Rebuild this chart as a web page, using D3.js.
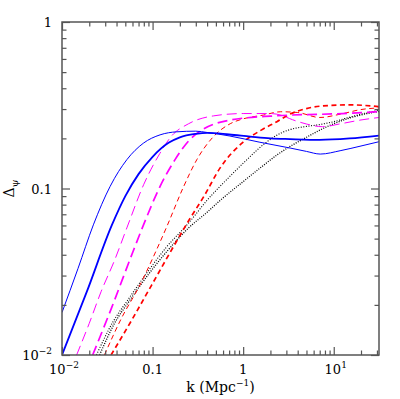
<!DOCTYPE html>
<html>
<head>
<meta charset="utf-8">
<script src="https://cdn.jsdelivr.net/npm/d3@7"></script>
<style>
  body { margin: 0; background: #fff; }
  svg text { font-family: "DejaVu Serif", serif; fill: #000; }
</style>
</head>
<body>
<svg id="chart" width="400" height="399"></svg>
<script>
// [k (Mpc^-1), Delta_psi]
const blueThin = [[0.01,0.018],[0.015,0.033],[0.0222,0.0605],[0.034,0.103],[0.052,0.149],[0.079,0.187],[0.121,0.21],[0.185,0.219],[0.3,0.221],[0.4,0.217],[0.7,0.207],[1.5,0.19],[3.3,0.175],[5,0.167],[7.1,0.161],[12,0.169],[20,0.18],[31.6,0.191]];
const blueThick = [[0.01,0.01],[0.0188,0.024],[0.0354,0.06],[0.05,0.09],[0.07,0.122],[0.1,0.155],[0.15,0.188],[0.2,0.203],[0.3,0.213],[0.4,0.216],[0.7,0.211],[1.2,0.205],[2,0.2],[3.3,0.198],[7,0.196],[15,0.2],[31.6,0.208]];
const magentaThin = [[0.0145,0.01],[0.02,0.0155],[0.027,0.024],[0.038,0.037],[0.052,0.058],[0.08,0.106],[0.12,0.162],[0.16,0.205],[0.25,0.245],[0.47,0.273],[1.0,0.282],[2.0,0.282],[2.6,0.276],[3.5,0.259],[5,0.244],[7.5,0.235],[12,0.245],[20,0.258],[31.6,0.267]];
const magentaThick = [[0.0218,0.01],[0.035,0.019],[0.061,0.042],[0.079,0.06],[0.121,0.103],[0.177,0.149],[0.25,0.193],[0.35,0.225],[0.47,0.243],[0.7,0.257],[1.1,0.266],[2,0.272],[3.3,0.276],[7,0.279],[15,0.283],[31.6,0.29]];
const redThin = [[0.0294,0.01],[0.045,0.0165],[0.0727,0.0264],[0.111,0.043],[0.1435,0.059],[0.219,0.102],[0.31,0.15],[0.47,0.205],[0.72,0.245],[1.0,0.262],[1.67,0.276],[2.6,0.289],[4,0.286],[7,0.267],[12,0.28],[20,0.298],[31.6,0.305]];
const redThick = [[0.0348,0.01],[0.06,0.0165],[0.098,0.0264],[0.163,0.043],[0.25,0.064],[0.37,0.09],[0.557,0.133],[1.0,0.19],[1.6,0.225],[2.36,0.252],[3.3,0.28],[5,0.302],[7,0.312],[15,0.318],[31.6,0.31]];
const dottedA = [[0.024,0.01],[0.037,0.016],[0.052,0.021],[0.086,0.031],[0.14,0.044],[0.25,0.062],[0.4,0.085],[0.7,0.117],[1.1,0.149],[1.7,0.185],[2.6,0.215],[3.3,0.226],[5,0.236],[7,0.242],[10,0.252],[15,0.268],[22,0.283],[31.6,0.295]];
const dottedB = [[0.026,0.01],[0.038,0.0155],[0.055,0.021],[0.09,0.0305],[0.15,0.043],[0.25,0.058],[0.4,0.072],[0.56,0.085],[1.0,0.11],[1.6,0.135],[2.4,0.16],[3.3,0.179],[5,0.203],[7,0.224],[10,0.245],[15,0.265],[22,0.28],[31.6,0.29]];

const xMajor = [0.01, 0.1, 1, 10];
const xMajorLabels = [["10","-2"],["0.1"],["1"],["10","1"]];
const yMajor = [0.01, 0.1, 1];
const yMajorLabels = [["10","-2"],["0.1"],["1"]];

const plotLeft = 62, plotRight = 379, plotTop = 22, plotBottom = 355;

const svg = d3.select("#chart");

const x = d3.scaleLog().domain([0.01, 31.6]).range([plotLeft, plotRight]);
const y = d3.scaleLog().domain([0.01, 1]).range([plotBottom, plotTop]);

const isDecade = v => Math.abs(Math.log10(v) - Math.round(Math.log10(v))) < 1e-6;
const xMinor = x.ticks().filter(v => !isDecade(v));
const yMinor = y.ticks().filter(v => !isDecade(v));

svg.append("defs").append("clipPath").attr("id", "plot")
    .append("rect")
    .attr("x", plotLeft).attr("y", plotTop)
    .attr("width", plotRight - plotLeft).attr("height", plotBottom - plotTop);

// curves
const line = d3.line()
    .x(d => x(d[0]))
    .y(d => y(d[1]))
    .curve(d3.curveMonotoneX);

const series = [
    {data: dottedA, color: "#000", w: 1.1, dash: "1,1.6"},
    {data: dottedB, color: "#000", w: 1.3, dash: "1,1.4"},
    {data: redThin, color: "#ff0000", w: 1, dash: "5,3.5"},
    {data: redThick, color: "#ff0000", w: 1.7, dash: "5,3.5"},
    {data: magentaThin, color: "#ff00ff", w: 1, dash: "10,5"},
    {data: magentaThick, color: "#ff00ff", w: 1.7, dash: "10,5"},
    {data: blueThin, color: "#0000ff", w: 1, dash: null},
    {data: blueThick, color: "#0000ff", w: 1.8, dash: null}
];

svg.append("g").attr("clip-path", "url(#plot)")
    .selectAll("path")
    .data(series)
    .join("path")
    .attr("fill", "none")
    .attr("stroke", d => d.color)
    .attr("stroke-width", d => d.w)
    .attr("stroke-dasharray", d => d.dash)
    .attr("d", d => line(d.data));

// ticks, pointing inward on all four sides
const axisColor = "#555";
function ticks(axis, tx, ty) {
    const g = svg.append("g")
        .attr("transform", "translate(" + tx + "," + ty + ")")
        .call(axis);
    g.select(".domain").remove();
    g.selectAll("line").attr("stroke", axisColor).attr("stroke-width", 1.2);
    g.selectAll("text").remove();
}

ticks(d3.axisBottom(x).tickValues(xMinor).tickSize(-4.5), 0, plotBottom);
ticks(d3.axisBottom(x).tickValues(xMajor).tickSize(-8), 0, plotBottom);
ticks(d3.axisTop(x).tickValues(xMinor).tickSize(-4.5), 0, plotTop);
ticks(d3.axisTop(x).tickValues(xMajor).tickSize(-8), 0, plotTop);
ticks(d3.axisLeft(y).tickValues(yMinor).tickSize(-4.5), plotLeft, 0);
ticks(d3.axisLeft(y).tickValues(yMajor).tickSize(-8), plotLeft, 0);
ticks(d3.axisRight(y).tickValues(yMinor).tickSize(-4.5), plotRight, 0);
ticks(d3.axisRight(y).tickValues(yMajor).tickSize(-8), plotRight, 0);

svg.append("rect")
    .attr("x", plotLeft).attr("y", plotTop)
    .attr("width", plotRight - plotLeft).attr("height", plotBottom - plotTop)
    .attr("fill", "none")
    .attr("stroke", axisColor)
    .attr("stroke-width", 1.5);

// tick labels
function label(sel, parts) {
    sel.append("tspan").text(parts[0]);
    if (parts[1]) {
        sel.append("tspan")
            .attr("dy", -6)
            .attr("font-size", 9)
            .text(parts[1].replace("-", "\u2212"));
    }
}

xMajor.forEach((v, i) => {
    const t = svg.append("text")
        .attr("x", x(v) + (xMajorLabels[i][1] ? 2 : 0))
        .attr("y", 374)
        .attr("text-anchor", "middle")
        .attr("font-size", 13);
    label(t, xMajorLabels[i]);
});

yMajor.forEach((v, i) => {
    const t = svg.append("text")
        .attr("x", 52)
        .attr("y", y(v) + 5)
        .attr("text-anchor", "end")
        .attr("font-size", 13);
    label(t, yMajorLabels[i]);
});

// axis titles
const xt = svg.append("text")
    .attr("x", (plotLeft + plotRight) / 2)
    .attr("y", 392)
    .attr("text-anchor", "middle")
    .attr("font-size", 14);
xt.append("tspan").text("k (Mpc");
xt.append("tspan").attr("dy", -6).attr("font-size", 9).text("\u22121");
xt.append("tspan").attr("dy", 6).text(")");

const yt = svg.append("text")
    .attr("transform", "translate(14," + ((plotTop + plotBottom) / 2) + ") rotate(-90)")
    .attr("text-anchor", "middle")
    .attr("font-size", 14);
yt.append("tspan").text("\u0394");
yt.append("tspan").attr("dy", 4).attr("font-size", 10).text("\u03c8");
</script>
</body>
</html>
